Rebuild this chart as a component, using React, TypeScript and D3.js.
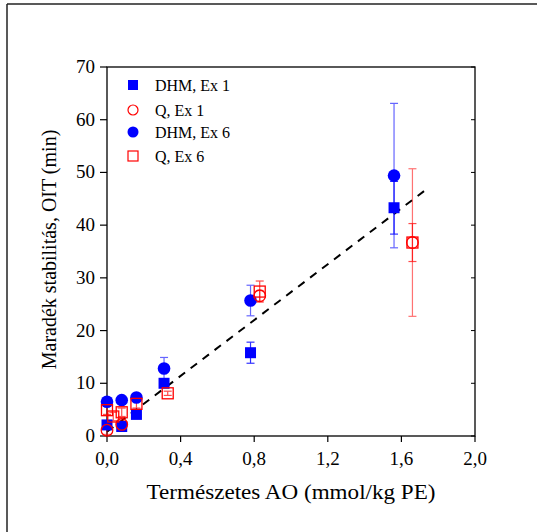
import React from "react";
import * as d3 from "d3";

const xTicks = [0, 0.4, 0.8, 1.2, 1.6, 2.0];
const yTicks = [0, 10, 20, 30, 40, 50, 60, 70];

// DHM, Ex 1 (filled squares)
const dhm1X = [0, 0.08, 0.16, 0.31, 0.78, 1.56];
const dhm1Y = [2.1, 1.8, 4.1, 10.0, 15.8, 43.3];
const dhm1Err = [0.5, 0.5, 0.6, 0.6, 2.0, 5.0];

// Q, Ex 1 (open circles)
const q1X = [0, 0.08, 0.83, 1.66];
const q1Y = [1.1, 2.2, 26.6, 36.7];
const q1Err = [0.8, 0.8, 1.0, 14.0];

// DHM, Ex 6 (filled circles)
const dhm6X = [0, 0.08, 0.16, 0.31, 0.78, 1.56];
const dhm6Y = [6.5, 6.8, 7.3, 12.8, 25.7, 49.4];
const dhm6Err = [0.4, 0.4, 0.4, 2.1, 2.9, 13.7];

// Q, Ex 6 (open squares)
const q6X = [0, 0.034, 0.08, 0.16, 0.33, 0.83, 1.66];
const q6Y = [4.9, 3.7, 4.5, 6.1, 8.1, 27.4, 36.7];
const q6Err = [0.8, 0.8, 0.8, 0.8, 0.4, 2.0, 3.6];

// Linear trend (dashed)
const trendX = [0, 1.74];
const trendY = [0.8, 46.9];

const legendLabels = ["DHM, Ex 1", "Q, Ex 1", "DHM, Ex 6", "Q, Ex 6"];

const BLUE = "#0000ff";
const RED = "#ff0000";

export default function App() {
  const W = 537, H = 532;
  const left = 107, right = 475, top = 67, bottom = 436;
  const x = d3.scaleLinear().domain([0, 2.0]).range([left, right]);
  const y = d3.scaleLinear().domain([0, 70]).range([bottom, top]);
  const font = "Liberation Serif, Times New Roman, serif";
  const ts = (size: number) => ({ fontFamily: font, fontSize: size + "px" });

  const errBars = (xs: number[], ys: number[], es: number[], color: string, op: number, key: string) =>
    xs.map((xv, i) => {
      const cx = x(xv);
      const y1 = y(ys[i] + es[i]);
      const y2 = y(ys[i] - es[i]);
      return (
        <g key={key + i} stroke={color} strokeWidth={1.2} opacity={op}>
          <line x1={cx} x2={cx} y1={y1} y2={y2} />
          <line x1={cx - 4} x2={cx + 4} y1={y1} y2={y1} />
          <line x1={cx - 4} x2={cx + 4} y1={y2} y2={y2} />
        </g>
      );
    });

  const line = d3.line<number>().x((d, i) => x(trendX[i])).y((d) => y(d));

  const legendY = [85, 110, 132, 156];
  const lx = 133;

  return (
    <svg width={W} height={H} style={{ position: "absolute", left: 0, top: 0, background: "#fff" }}>
      {/* outer frame */}
      <line x1={7} x2={537} y1={4} y2={4} stroke="#222" strokeWidth={1.5} />
      <line x1={7} x2={7} y1={4} y2={532} stroke="#222" strokeWidth={1.5} />

      {/* plot box */}
      <rect x={left} y={top} width={right - left} height={bottom - top} fill="none" stroke="#000" strokeWidth={1.3} />

      {/* x ticks */}
      {xTicks.map((t) => (
        <g key={"xt" + t}>
          <line x1={x(t)} x2={x(t)} y1={bottom} y2={bottom + 6} stroke="#000" strokeWidth={1.2} />
          <text x={x(t)} y={bottom + 29} textAnchor="middle" style={ts(19)}>
            {t.toFixed(1).replace(".", ",")}
          </text>
        </g>
      ))}
      {/* y ticks */}
      {yTicks.map((t) => (
        <g key={"yt" + t}>
          <line x1={left - 7} x2={left} y1={y(t)} y2={y(t)} stroke="#000" strokeWidth={1.2} />
          <line x1={right - 4} x2={right} y1={y(t)} y2={y(t)} stroke="#000" strokeWidth={1} />
          <text x={left - 12} y={y(t) + 6} textAnchor="end" style={ts(19)}>
            {t}
          </text>
        </g>
      ))}

      {/* axis titles */}
      <text x={(left + right) / 2} y={499} textAnchor="middle" style={ts(21)} textLength={289} lengthAdjust="spacingAndGlyphs">
        Természetes AO (mmol/kg PE)
      </text>
      <text
        transform={`translate(56, ${(top + bottom) / 2 - 2}) rotate(-90)`}
        textAnchor="middle"
        style={ts(20)}
      >
        Maradék stabilitás, OIT (min)
      </text>

      {/* trend line */}
      <path d={line(trendY) || ""} fill="none" stroke="#000" strokeWidth={2} strokeDasharray="8,7" />

      {/* error bars */}
      {errBars(dhm6X, dhm6Y, dhm6Err, BLUE, 0.6, "e6")}
      {errBars(dhm1X, dhm1Y, dhm1Err, BLUE, 0.8, "e1")}
      {errBars(q1X, q1Y, q1Err, RED, 0.55, "q1")}
      {errBars(q6X, q6Y, q6Err, RED, 0.7, "q6")}

      {/* markers */}
      {dhm6X.map((xv, i) => (
        <circle key={"c6" + i} cx={x(xv)} cy={y(dhm6Y[i])} r={6.3} fill={BLUE} />
      ))}
      {dhm1X.map((xv, i) => (
        <rect key={"s1" + i} x={x(xv) - 5.5} y={y(dhm1Y[i]) - 5.5} width={11} height={11} fill={BLUE} />
      ))}
      {q1X.map((xv, i) => (
        <circle key={"qc" + i} cx={x(xv)} cy={y(q1Y[i])} r={5.8} fill="none" stroke={RED} strokeWidth={1.3} />
      ))}
      {q6X.map((xv, i) => (
        <rect key={"qs" + i} x={x(xv) - 5.5} y={y(q6Y[i]) - 5.5} width={11} height={11} fill="none" stroke={RED} strokeWidth={1.3} />
      ))}

      {/* legend */}
      <rect x={lx - 5} y={legendY[0] - 5} width={10} height={10} fill={BLUE} />
      <circle cx={lx} cy={legendY[1]} r={5} fill="none" stroke={RED} strokeWidth={1.2} />
      <circle cx={lx} cy={legendY[2]} r={5.5} fill={BLUE} />
      <rect x={lx - 5} y={legendY[3] - 5} width={10} height={10} fill="none" stroke={RED} strokeWidth={1.2} />
      {legendLabels.map((l, i) => (
        <text key={l} x={155} y={legendY[i] + 5.5} style={ts(16)}>
          {l}
        </text>
      ))}
    </svg>
  );
}
